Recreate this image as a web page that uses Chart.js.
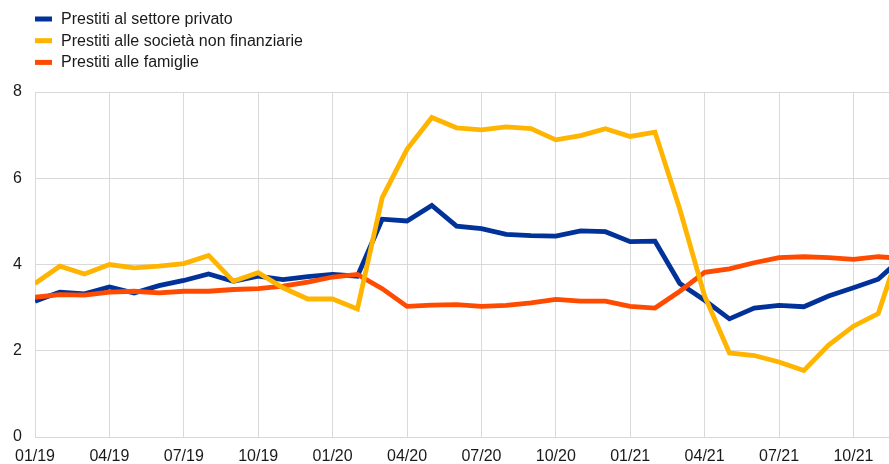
<!DOCTYPE html>
<html>
<head>
<meta charset="utf-8">
<script src="https://cdn.jsdelivr.net/npm/chart.js@4/dist/chart.umd.min.js"></script>
<style>
  html, body { margin: 0; padding: 0; background: #fff; }
  #wrap { position: relative; width: 889px; height: 464px; }
</style>
</head>
<body>
<div id="wrap"><canvas id="chart" width="889" height="464"></canvas></div>
<script>
// 月ラベル（01/19 〜 12/21）
const months = [
  '01/19','02/19','03/19','04/19','05/19','06/19','07/19','08/19','09/19','10/19','11/19','12/19',
  '01/20','02/20','03/20','04/20','05/20','06/20','07/20','08/20','09/20','10/20','11/20','12/20',
  '01/21','02/21','03/21','04/21','05/21','06/21','07/21','08/21','09/21','10/21','11/21','12/21',
];

// 目盛り位置（月インデックス）
const tickIndex = [0, 3, 6, 9, 12, 15, 18, 21, 24, 27, 30, 33];
const yTicks = [0, 2, 4, 6, 8];

const seriesNames = [
  'Prestiti al settore privato',
  'Prestiti alle società non finanziarie',
  'Prestiti alle famiglie',
];

// 民間部門
const privato = [
  3.15, 3.36, 3.32, 3.48, 3.34, 3.51, 3.63, 3.78, 3.61, 3.73, 3.65, 3.72,
  3.77, 3.73, 5.05, 5.01, 5.37, 4.89, 4.83, 4.70, 4.67, 4.66, 4.78, 4.76,
  4.53, 4.54, 3.56, 3.17, 2.74, 2.99, 3.05, 3.02, 3.27, 3.46, 3.66, 4.18,
];

// 非金融企業
const societa = [
  3.56, 3.96, 3.78, 4.00, 3.92, 3.96, 4.02, 4.21, 3.61, 3.81, 3.46, 3.20,
  3.20, 2.97, 5.55, 6.67, 7.41, 7.17, 7.12, 7.19, 7.15, 6.89, 6.99, 7.15,
  6.97, 7.07, 5.28, 3.27, 1.95, 1.89, 1.74, 1.54, 2.13, 2.57, 2.86, 4.60,
];

// 家計
const famiglie = [
  3.24, 3.30, 3.29, 3.36, 3.38, 3.34, 3.38, 3.38, 3.42, 3.44, 3.50, 3.59,
  3.71, 3.77, 3.44, 3.03, 3.06, 3.07, 3.03, 3.05, 3.11, 3.19, 3.15, 3.15,
  3.03, 2.99, 3.38, 3.82, 3.90, 4.04, 4.16, 4.18, 4.16, 4.12, 4.18, 4.14,
];

const COLORS = ['#003299', '#FFB400', '#FF4B00'];
const FONT = '"Liberation Sans", Arial, sans-serif';

const toPoints = (arr) => arr.map((v, i) => ({ x: i, y: v }));

// 凡例（縦並び）を描くプラグイン
const legendPlugin = {
  id: 'stackLegend',
  afterDraw(chart) {
    const { ctx } = chart;
    ctx.save();
    ctx.font = '16px ' + FONT;
    ctx.textBaseline = 'middle';
    seriesNames.forEach((name, i) => {
      const y = 19 + i * 21.7;
      ctx.fillStyle = COLORS[i];
      ctx.fillRect(35, y - 2.5, 17, 5);
      ctx.fillStyle = '#1a1a1a';
      ctx.fillText(name, 61, y + 0.5);
    });
    ctx.restore();
  },
};

const makeSet = (idx, data, order) => ({
  label: seriesNames[idx],
  data: toPoints(data),
  borderColor: COLORS[idx],
  backgroundColor: COLORS[idx],
  borderWidth: 4.8,
  pointRadius: 0,
  tension: 0,
  order,
});

new Chart(document.getElementById('chart').getContext('2d'), {
  type: 'line',
  data: {
    datasets: [
      makeSet(1, societa, 0),
      makeSet(2, famiglie, 1),
      makeSet(0, privato, 2),
    ],
  },
  options: {
    responsive: false,
    animation: false,
    layout: { padding: { top: 92, right: 0, left: 0, bottom: 0 } },
    plugins: {
      legend: { display: false },
      tooltip: { enabled: false },
    },
    scales: {
      x: {
        type: 'linear',
        min: 0,
        max: 34.435,
        afterBuildTicks: (s) => { s.ticks = tickIndex.map((v) => ({ value: v })); },
        afterFit: (s) => { s.height = 27; },
        grid: { color: '#d9d9d9', lineWidth: 1, drawTicks: false },
        border: { display: false },
        ticks: {
          color: '#1a1a1a',
          font: { size: 16, family: FONT },
          padding: 10,
          maxRotation: 0,
          autoSkip: false,
          callback: (v) => months[v],
        },
      },
      y: {
        min: 0,
        max: 8,
        afterBuildTicks: (s) => { s.ticks = yTicks.map((v) => ({ value: v })); },
        afterFit: (s) => { s.width = 35; },
        grid: { color: '#d9d9d9', lineWidth: 1, drawTicks: false },
        border: { display: false },
        ticks: {
          color: '#1a1a1a',
          font: { size: 16, family: FONT },
          padding: 13,
        },
      },
    },
  },
  plugins: [legendPlugin],
});
</script>
</body>
</html>
